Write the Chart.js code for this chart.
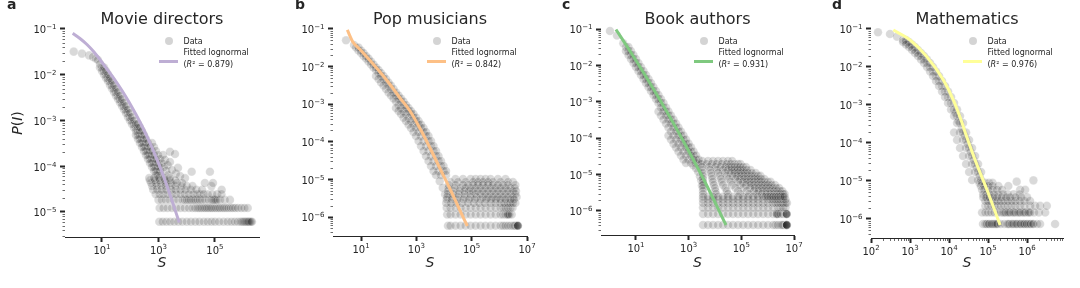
<!DOCTYPE html>
<html>
<head>
<meta charset="utf-8">
<script src="https://cdn.jsdelivr.net/npm/chart.js@4.4.1/dist/chart.umd.min.js"></script>
<style>
  body { margin: 0; background: #fff; }
  #wrap { position: relative; width: 1080px; height: 288px; }
  #wrap canvas { position: absolute; top: 0; }
</style>
</head>
<body>
<div id="wrap">
  <canvas id="panelA" width="270" height="288" style="left:0px"></canvas>
  <canvas id="panelB" width="270" height="288" style="left:270px"></canvas>
  <canvas id="panelC" width="270" height="288" style="left:540px"></canvas>
  <canvas id="panelD" width="270" height="288" style="left:810px"></canvas>
</div>
<script>
const panelTitles = ["Movie directors", "Pop musicians", "Book authors", "Mathematics"];
const panelLetters = ["a", "b", "c", "d"];
const fitR2 = ["0.879", "0.842", "0.931", "0.976"];
const fitColors = ["#beaed4", "#fdc086", "#7fc97f", "#ffff99"];

const xTicksA = [10, 1e3, 1e5];
const xTicksB = [10, 1e3, 1e5, 1e7];
const xTicksC = [10, 1e3, 1e5, 1e7];
const xTicksD = [1e2, 1e3, 1e4, 1e5, 1e6];
const yTicksA = [1e-1, 1e-2, 1e-3, 1e-4, 1e-5];
const yTicksBCD = [1e-1, 1e-2, 1e-3, 1e-4, 1e-5, 1e-6];

// a: movie directors
const dirFitX = [0.918, 1.66, 2.94, 5.21, 9.23, 16.3, 28.9, 51, 90.3, 160, 283, 500, 885, 1570, 2770, 5440];
const dirFitY = [0.0805, 0.0619, 0.0458, 0.0314, 0.02, 0.0124, 0.00767, 0.00453, 0.00254, 0.00135, 6.85e-4, 3.22e-4, 1.41e-4, 5.68e-5, 2.07e-5, 5.89e-6];
const dirCloud = [
  [1.0,0.032],[1.95,0.029],[3.5,0.0265],[4.8,0.0245],[6.1,0.0225],[7.2,0.021],
  [8.5,0.0172],[10,0.0144],[11.8,0.0121],[13.9,0.0101],[16.3,0.0085],[19.2,0.0073],[22.6,0.006],[26.6,0.005],
  [31.3,0.0042],[36.8,0.0035],[43.4,0.00295],[51,0.00247],[60,0.00207],[70.8,0.00174],[83.2,0.00146],[98,0.00119],
  [115,0.001],[136,8.4e-4],[160,7e-4],[188,5.9e-4],[221,4.8e-4],[261,3.94e-4],[307,3.22e-4],[361,2.64e-4],
  [425,2.16e-4],[500,1.76e-4],[589,1.44e-4],[693,1.18e-4],[816,9.6e-5],[960,7.9e-5],[1130,6.4e-5],
  [8.5,0.0144],[10,0.0121],[11.8,0.0101],[13.9,0.0085],[16.3,0.0073],[19.2,0.006],[22.6,0.005],[26.6,0.0042],
  [31.3,0.0035],[36.8,0.00295],[43.4,0.00247],[51,0.00207],[60,0.00174],[70.8,0.00146],[83.2,0.00119],[98,0.001],
  [115,8.4e-4],[136,7e-4],[160,5.9e-4],[188,4.8e-4],[221,3.94e-4],[261,3.22e-4],[307,2.64e-4],[361,2.16e-4],
  [425,1.76e-4],[500,1.44e-4],[589,1.18e-4],[693,9.6e-5],[816,7.9e-5],[960,6.4e-5],
  [11.8,0.0144],[13.9,0.0121],[16.3,0.0101],[19.2,0.0085],[22.6,0.0073],[26.6,0.006],[31.3,0.005],[36.8,0.0042],
  [43.4,0.0035],[51,0.00295],[60,0.00247],[70.8,0.00207],[83.2,0.00174],[98,0.00146],[115,0.00119],[136,0.001],
  [160,8.4e-4],[188,7e-4],[221,5.9e-4],[261,4.8e-4],[307,3.94e-4],[361,3.22e-4],[425,2.64e-4],[500,2.16e-4],
  [589,1.76e-4],[693,1.44e-4],[816,1.18e-4],[960,9.6e-5],[1130,7.9e-5],
  [188,8.4e-4],[221,7e-4],[261,5.9e-4],[307,4.8e-4],[361,3.94e-4],[425,3.22e-4],[500,2.64e-4],[589,2.16e-4],
  [693,1.76e-4],[816,1.44e-4],[960,1.18e-4],[1130,9.6e-5],
  [589,3.22e-4],[693,2.64e-4],[816,2.16e-4],[960,1.76e-4],[1130,1.44e-4],[1330,1.18e-4],[1570,9.6e-5],[1850,7.9e-5],[2200,6.4e-5],
  [160,4.8e-4],[188,3.94e-4],[221,3.22e-4],[261,2.64e-4],[307,2.16e-4],[361,1.76e-4],[425,1.44e-4],[500,1.18e-4],
  [589,9.6e-5],[693,7.9e-5],[816,6.4e-5],
  [1700,1.37e-4],[2100,1.06e-4],[3000,8.3e-5],[4100,6.9e-5],[5800,6.1e-5],[8700,5.5e-5],[4900,9.2e-5],[2550,1.24e-4],[1450,1.76e-4],
  [2550,2.08e-4],[3840,1.85e-4],[1.5e4,7.6e-5],[6.65e4,7.6e-5]
];
const dirRowY = [6.1e-6, 1.22e-5, 1.84e-5, 2.45e-5, 3.07e-5, 3.68e-5, 4.3e-5, 4.9e-5, 5.5e-5];
const dirRowX = [
  [1070,1400,1900,2600,3600,5000,7000,1e4,1.4e4,2e4,2.8e4,4e4,5.5e4,7.5e4,1e5,1.4e5,2e5,2.8e5,3.8e5,5e5,6.5e5,8e5,9e5,1e6,1.1e6,1.2e6,1.3e6,1.4e6,1.5e6,1.6e6,1.75e6,1.9e6,2.05e6],
  [1100,1500,2100,3000,4200,6000,8500,1.2e4,1.6e4,2e4,2.4e4,2.8e4,3.3e4,3.9e4,4.5e4,5.2e4,6e4,7e4,8e4,9.5e4,1.1e5,1.3e5,1.5e5,1.8e5,2.1e5,2.5e5,3e5,3.6e5,4.3e5,5.2e5,6.5e5,8.5e5,1.1e6,1.45e6],
  [1000,1300,1800,2500,3500,5000,7000,8500,1e4,1.2e4,1.4e4,1.7e4,2e4,2.4e4,2.9e4,3.5e4,4.5e4,6e4,7.5e4,8.5e4,9.5e4,1.05e5,1.2e5,1.5e5,2.2e5,3.4e5],
  [800,1100,1500,2100,3000,4200,6000,8500,1.2e4,1.7e4,2.3e4,3e4,4e4,5.5e4,8e4,1.2e5,1.7e5],
  [650,900,1300,1900,2800,4000,6000,9000,1.4e4,2.2e4,3.5e4,1.73e5],
  [600,850,1250,1800,2700,4000,6500,1e4,1.6e4,7.5e4],
  [550,800,1200,1800,2800,4500,7000,4.4e4,8.5e4],
  [500,750,1100,1700,2600,4000],
  [470,700,1050,1600,2500]
];

// b: pop musicians
const popFitX = [3.2, 5.01, 9.2, 21.1, 48.6, 112, 257, 590, 1360, 3120, 7160, 1.65e4, 3.79e4, 6.95e4];
const popFitY = [0.094, 0.0459, 0.0285, 0.0145, 0.00718, 0.00334, 0.00146, 6.59e-4, 2.26e-4, 6.84e-5, 1.95e-5, 5.56e-6, 1.49e-6, 5.77e-7];
const popCloud = [
  [2.87,0.05],[5.6,0.0375],
  [6.6,0.0322],[8.1,0.0268],[10,0.023],[12.3,0.0191],[15.2,0.0164],[18.7,0.0137],[23,0.0114],[28.3,0.00946],
  [34.8,0.00812],[42.9,0.00676],[52.8,0.00562],[65,0.00468],[80,0.00378],[98.6,0.00314],[121,0.00253],[150,0.00205],
  [184,0.0017],[227,0.00142],[279,0.00118],[344,9.5e-4],[423,7.9e-4],[521,6.6e-4],[641,5.5e-4],[789,4.4e-4],
  [972,3.57e-4],[1200,2.88e-4],[1470,2.33e-4],[1820,1.82e-4],[2230,1.43e-4],[2750,1.05e-4],[3390,7.7e-5],[4170,5.7e-5],
  [5140,4.2e-5],[6320,3.08e-5],[7780,2.27e-5],[9590,1.67e-5],[1.18e4,1.31e-5],
  [8.1,0.0322],[10,0.0268],[12.3,0.023],[15.2,0.0191],[18.7,0.0164],[23,0.0137],[28.3,0.0114],[34.8,0.00946],
  [42.9,0.00812],[52.8,0.00676],[65,0.00562],[80,0.00468],[98.6,0.00378],[121,0.00314],[150,0.00253],[184,0.00205],
  [227,0.0017],[279,0.00142],[344,0.00118],[423,9.5e-4],[521,7.9e-4],[641,6.6e-4],[789,5.5e-4],[972,4.4e-4],
  [1200,3.57e-4],[1470,2.88e-4],[1820,2.33e-4],[2230,1.82e-4],[2750,1.43e-4],[3390,1.05e-4],[4170,7.7e-5],[5140,5.7e-5],
  [6320,4.2e-5],[7780,3.08e-5],[9590,2.27e-5],[1.18e4,1.67e-5],
  [34.8,0.00562],[42.9,0.00468],[52.8,0.00378],[65,0.00314],[80,0.00253],[98.6,0.00205],[121,0.0017],[150,0.00142],
  [184,0.00118],[227,9.5e-4],[279,7.9e-4],[344,6.6e-4],[423,5.5e-4],[521,4.4e-4],[641,3.57e-4],[789,2.88e-4],
  [972,2.33e-4],[1200,1.82e-4],[1470,1.43e-4],[1820,1.05e-4],[2230,7.7e-5],[2750,5.7e-5],[3390,4.2e-5],[4170,3.08e-5],
  [5140,2.27e-5],[6320,1.67e-5],[7780,1.31e-5],
  [184,7.9e-4],[227,6.6e-4],[279,5.5e-4],[344,4.4e-4],[423,3.57e-4],[521,2.88e-4],[641,2.33e-4],[789,1.82e-4],
  [972,1.43e-4],[1200,1.05e-4],[1470,7.7e-5],[1820,5.7e-5],[2230,4.2e-5],[2750,3.08e-5],[3390,2.27e-5],[4170,1.67e-5],[5140,1.31e-5],
  [7000,9e-6],[9000,6e-6],[1.1e4,4e-6],
  [2.6e4,1.03e-5],[4.86e4,1.03e-5],[9.1e4,1.03e-5],[1.38e5,1.03e-5],[2.08e5,1.03e-5],[3.15e5,1.03e-5],[4.8e5,1.03e-5],[8.9e5,1.03e-5],[1.67e6,1.03e-5],
  [1.71e4,8.5e-6],[3.2e4,8.5e-6],[6e4,8.5e-6],[1.12e5,8.5e-6],[1.69e5,8.5e-6],[2.56e5,8.5e-6],[3.9e5,8.5e-6],[5.9e5,8.5e-6],[1.1e6,8.5e-6],[2.05e6,8.5e-6],[3.1e6,8.5e-6],
  [1.5e4,7.1e-6],[2.6e4,7.1e-6],[4.86e4,7.1e-6],[7.4e4,7.1e-6],[1.12e5,7.1e-6],[1.69e5,7.1e-6],[2.56e5,7.1e-6],[3.9e5,7.1e-6],[5.9e5,7.1e-6],[8.9e5,7.1e-6],[1.36e6,7.1e-6],[2.05e6,7.1e-6],[3.8e6,7.1e-6],
  [1.45e4,5.9e-6],[2.4e4,5.9e-6],[3.94e4,5.9e-6],[6e4,5.9e-6],[9.1e4,5.9e-6],[1.38e5,5.9e-6],[2.08e5,5.9e-6],[3.15e5,5.9e-6],[4.8e5,5.9e-6],[7.3e5,5.9e-6],[1.1e6,5.9e-6],[1.67e6,5.9e-6],[2.52e6,5.9e-6],[3.6e6,5.9e-6],
  [1.4e4,4.9e-6],[2.2e4,4.9e-6],[3.6e4,4.9e-6],[5.5e4,4.9e-6],[8e4,4.9e-6],[1.12e5,4.9e-6],[1.69e5,4.9e-6],[2.56e5,4.9e-6],[3.9e5,4.9e-6],[5.9e5,4.9e-6],[8.9e5,4.9e-6],[1.36e6,4.9e-6],[2.05e6,4.9e-6],[3.1e6,4.9e-6],[4e6,4.9e-6],
  [1.35e4,4.1e-6],[2.1e4,4.1e-6],[3.4e4,4.1e-6],[5.5e4,4.1e-6],[9.1e4,4.1e-6],[1.38e5,4.1e-6],[2.08e5,4.1e-6],[3.15e5,4.1e-6],[4.8e5,4.1e-6],[7.3e5,4.1e-6],[1.1e6,4.1e-6],[1.67e6,4.1e-6],[2.52e6,4.1e-6],[3.8e6,4.1e-6],
  [1.3e4,3.4e-6],[2e4,3.4e-6],[3.2e4,3.4e-6],[5.5e4,3.4e-6],[9e4,3.4e-6],[1.5e5,3.4e-6],[2.56e5,3.4e-6],[3.9e5,3.4e-6],[5.9e5,3.4e-6],[8.9e5,3.4e-6],[1.36e6,3.4e-6],[2.05e6,3.4e-6],[3.1e6,3.4e-6],[4.2e6,3.4e-6]
];
const popRowY = [5.87e-7, 1.17e-6, 1.76e-6, 2.35e-6, 2.93e-6];
const popRowX = [
  [1.39e4,1.71e4,2.6e4,3.94e4,6e4,9.1e4,1.38e5,2.08e5,3.15e5,4.8e5,7.3e5,1.1e6,1.36e6,1.67e6,2.05e6,2.52e6,3.1e6,3.5e6,3.8e6,4.2e6,4.5e6,4.6e6,4.7e6,4.7e6],
  [1.3e4,1.71e4,2.6e4,3.94e4,6e4,9.1e4,1.38e5,2.08e5,3.15e5,4.8e5,7.3e5,1.1e6,1.36e6,1.67e6,1.9e6,2.05e6,2.05e6,2.3e6,2.8e6],
  [1.25e4,1.71e4,2.6e4,3.94e4,6e4,9.1e4,1.38e5,2.08e5,3.15e5,4.8e5,7.3e5,1.1e6,1.4e6,1.67e6,2.05e6,2.52e6,3e6],
  [1.2e4,1.8e4,2.8e4,4.5e4,7.4e4,1.2e5,1.9e5,3e5,4.8e5,7.3e5,1.1e6,1.5e6,2e6,2.5e6,3.1e6,3.8e6],
  [1.25e4,1.9e4,3e4,5e4,8e4,1.3e5,2.1e5,3.3e5,5e5,7.5e5,1.1e6,1.67e6,2.52e6,3.4e6]
];

// c: book authors
const bookFitX = [1.74, 5.92, 22, 81.6, 303, 1125, 4180, 2.62e4];
const bookFitY = [0.0969, 0.0249, 0.00545, 0.00112, 2.16e-4, 3.8e-5, 6.26e-6, 4.12e-7];
const bookCloud = [
  [1.03,0.088],[1.9,0.066],[3.3,0.0405],
  [4.17,0.032],[5.19,0.0249],[6.46,0.0193],[8.04,0.015],[10,0.01165],[12.4,0.00904],[15.5,0.00702],[19.3,0.00545],
  [24,0.00423],[29.9,0.00328],[37.2,0.00255],[46.2,0.00198],[57.5,0.00154],[71.6,0.00119],[89,9.3e-4],[111,6.97e-4],
  [138,5.42e-4],[171,4.2e-4],[213,3.27e-4],[266,2.54e-4],[330,1.97e-4],[411,1.53e-4],[511,1.19e-4],[636,9.2e-5],
  [792,7.1e-5],[986,5.6e-5],[1230,4.3e-5],[1530,3.35e-5],[1900,2.6e-5],[2370,2.08e-5],
  [5.19,0.032],[6.46,0.0249],[8.04,0.0193],[10,0.015],[12.4,0.01165],[15.5,0.00904],[19.3,0.00702],[24,0.00545],
  [29.9,0.00423],[37.2,0.00328],[46.2,0.00255],[57.5,0.00198],[71.6,0.00154],[89,0.00119],[111,9.3e-4],[138,6.97e-4],
  [171,5.42e-4],[213,4.2e-4],[266,3.27e-4],[330,2.54e-4],[411,1.97e-4],[511,1.53e-4],[636,1.19e-4],[792,9.2e-5],
  [986,7.1e-5],[1230,5.6e-5],[1530,4.3e-5],[1900,3.35e-5],[2370,2.6e-5],
  [4.17,0.0249],[5.19,0.0193],[6.46,0.015],[8.04,0.01165],[10,0.00904],[12.4,0.00702],[15.5,0.00545],[19.3,0.00423],
  [24,0.00328],[29.9,0.00255],[37.2,0.00198],[46.2,0.00154],[57.5,0.00119],[71.6,9.3e-4],[89,6.97e-4],[111,5.42e-4],
  [138,4.2e-4],[171,3.27e-4],[213,2.54e-4],[266,1.97e-4],[330,1.53e-4],[411,1.19e-4],[511,9.2e-5],[636,7.1e-5],
  [792,5.6e-5],[986,4.3e-5],[1230,3.35e-5],[1530,2.6e-5],[1900,2.08e-5],
  [71.6,5.42e-4],[89,4.2e-4],[111,3.27e-4],[138,2.54e-4],[171,1.97e-4],[213,1.53e-4],[266,1.19e-4],[330,9.2e-5],
  [411,7.1e-5],[511,5.6e-5],[636,4.3e-5],[792,3.35e-5],[986,2.6e-5],[1230,2.08e-5],
  [171,1.19e-4],[213,9.2e-5],[266,7.1e-5],[330,5.6e-5],[411,4.3e-5],[511,3.35e-5],[636,2.6e-5],[792,2.08e-5],
  [1500,1.8e-5],[1900,1.5e-5],[2300,1.2e-5],[2700,9e-6],[3000,7e-6],[3200,5e-6],
  [3300,2.37e-5],[5400,2.37e-5],[8400,2.37e-5],[1.3e4,2.37e-5],[2e4,2.37e-5],[3.1e4,2.37e-5],[4.5e4,2.37e-5],
  [3000,1.96e-5],[4800,1.96e-5],[7500,1.96e-5],[1.15e4,1.96e-5],[1.8e4,1.96e-5],[2.8e4,1.96e-5],[3.9e4,1.96e-5],[5.5e4,1.96e-5],[7.5e4,1.96e-5],[9.3e4,1.96e-5],
  [3200,1.62e-5],[6000,1.62e-5],[1.04e4,1.62e-5],[1.62e4,1.62e-5],[2.5e4,1.62e-5],[3.3e4,1.62e-5],[4.3e4,1.62e-5],[5.5e4,1.62e-5],[7e4,1.62e-5],[9e4,1.62e-5],[1.16e5,1.62e-5],[1.5e5,1.62e-5],
  [3300,1.34e-5],[6500,1.34e-5],[1.2e4,1.34e-5],[2e4,1.34e-5],[3.1e4,1.34e-5],[4.2e4,1.34e-5],[5.5e4,1.34e-5],[7.2e4,1.34e-5],[9.3e4,1.34e-5],[1.2e5,1.34e-5],[1.6e5,1.34e-5],[2.24e5,1.34e-5],
  [3400,1.11e-5],[7000,1.11e-5],[1.3e4,1.11e-5],[2.4e4,1.11e-5],[3.9e4,1.11e-5],[5.5e4,1.11e-5],[7.5e4,1.11e-5],[1e5,1.11e-5],[1.35e5,1.11e-5],[1.8e5,1.11e-5],[2.5e5,1.11e-5],[3.5e5,1.11e-5],
  [3500,9.2e-6],[7500,9.2e-6],[1.5e4,9.2e-6],[2.8e4,9.2e-6],[4.8e4,9.2e-6],[7e4,9.2e-6],[9.5e4,9.2e-6],[1.3e5,9.2e-6],[1.75e5,9.2e-6],[2.4e5,9.2e-6],[3.2e5,9.2e-6],[4.3e5,9.2e-6],[5.3e5,9.2e-6],
  [3500,7.6e-6],[8000,7.6e-6],[1.7e4,7.6e-6],[3.3e4,7.6e-6],[6e4,7.6e-6],[9e4,7.6e-6],[1.25e5,7.6e-6],[1.7e5,7.6e-6],[2.3e5,7.6e-6],[3.1e5,7.6e-6],[4.2e5,7.6e-6],[5.6e5,7.6e-6],[7.5e5,7.6e-6],
  [3500,6.3e-6],[8400,6.3e-6],[1.8e4,6.3e-6],[3.9e4,6.3e-6],[7.5e4,6.3e-6],[1.16e5,6.3e-6],[1.6e5,6.3e-6],[2.2e5,6.3e-6],[3e5,6.3e-6],[4.1e5,6.3e-6],[5.5e5,6.3e-6],[7.5e5,6.3e-6],[1e6,6.3e-6],[1.28e6,6.3e-6],
  [3500,5.2e-6],[9000,5.2e-6],[2e4,5.2e-6],[4.5e4,5.2e-6],[9e4,5.2e-6],[1.5e5,5.2e-6],[2.2e5,5.2e-6],[3e5,5.2e-6],[4.2e5,5.2e-6],[5.7e5,5.2e-6],[7.7e5,5.2e-6],[1.03e6,5.2e-6],[1.4e6,5.2e-6],[1.9e6,5.2e-6],
  [3500,4.3e-6],[1e4,4.3e-6],[2.5e4,4.3e-6],[6e4,4.3e-6],[1.2e5,4.3e-6],[2.2e5,4.3e-6],[3.2e5,4.3e-6],[4.5e5,4.3e-6],[6.2e5,4.3e-6],[8.5e5,4.3e-6],[1.15e6,4.3e-6],[1.55e6,4.3e-6],[2.1e6,4.3e-6],[2.7e6,4.3e-6],
  [3500,3.54e-6],[1.04e4,3.54e-6],[2.8e4,3.54e-6],[7.5e4,3.54e-6],[1.6e5,3.54e-6],[3e5,3.54e-6],[4.5e5,3.54e-6],[6.5e5,3.54e-6],[9e5,3.54e-6],[1.25e6,3.54e-6],[1.7e6,3.54e-6],[2.3e6,3.54e-6],[3e6,3.54e-6],[3.6e6,3.54e-6],
  [3500,2.94e-6],[1.1e4,2.94e-6],[3.1e4,2.94e-6],[9e4,2.94e-6],[2e5,2.94e-6],[3.8e5,2.94e-6],[6e5,2.94e-6],[9e5,2.94e-6],[1.25e6,2.94e-6],[1.7e6,2.94e-6],[2.3e6,2.94e-6],[3e6,2.94e-6],[3.8e6,2.94e-6],[4.4e6,2.94e-6]
];
const bookRowY = [4.12e-7, 8.24e-7, 1.24e-6, 1.65e-6, 2.06e-6, 2.47e-6];
const bookRowX = [
  [3500,5400,8400,1.3e4,2e4,3.1e4,4.8e4,7.5e4,1.16e5,1.8e5,2.8e5,4.3e5,6.7e5,1.03e6,1.6e6,1.99e6,2.47e6,3.07e6,3.5e6,3.83e6,4.3e6,4.76e6,5.1e6,5.2e6,5.2e6,5.3e6,5.3e6,5.4e6],
  [3500,5400,8400,1.3e4,2e4,3.1e4,4.8e4,7.5e4,1.16e5,1.8e5,2.8e5,4.3e5,6.7e5,1.03e6,1.6e6,2.2e6,2.2e6,2.2e6,2.47e6,3.07e6,3.83e6,4.76e6,5.2e6,5.2e6,5.2e6,5.3e6],
  [3500,5400,8400,1.3e4,2e4,3.1e4,4.8e4,7.5e4,1.16e5,1.8e5,2.8e5,4.3e5,6.7e5,1.03e6,1.6e6,2.47e6,3.07e6,3.83e6,4.76e6],
  [3500,5400,8400,1.3e4,2e4,3.1e4,4.8e4,7.5e4,1.16e5,1.8e5,2.8e5,4.3e5,6.7e5,1.03e6,1.6e6,1.99e6,2.47e6,3.07e6,3.83e6,4.76e6,5.4e6],
  [3500,5400,8400,1.3e4,2e4,3.1e4,4.8e4,7.5e4,1.16e5,1.8e5,2.8e5,4.3e5,6.7e5,1.03e6,1.28e6,1.6e6,1.99e6,2.47e6,3.07e6,3.83e6,4.76e6],
  [3500,5400,8400,1.3e4,2e4,3.1e4,4.8e4,7.5e4,1.16e5,1.8e5,2.8e5,4.3e5,6.7e5,8.3e5,1.03e6,1.28e6,1.6e6,1.99e6,2.47e6,3.07e6,3.83e6,4.4e6]
];

// d: mathematics
const mathFitX = [373, 1000, 2680, 7140, 1.29e4, 2.03e4, 2.73e4, 4.64e4, 9.4e4, 2.03e5];
const mathFitY = [0.094, 0.0514, 0.0187, 0.00455, 0.00135, 4.03e-4, 1.62e-4, 3.57e-5, 5.8e-6, 6.95e-7];
const mathCloud = [
  [151,0.082],[307,0.074],[464,0.063],
  [661,0.0513],[789,0.0455],[942,0.0391],[1125,0.0336],[1343,0.028],[1603,0.0233],[1914,0.0195],[2285,0.0157],
  [2728,0.0127],[3257,0.01],[3888,0.00762],[4642,0.0058],[5542,0.00428],[6617,0.00316],[7900,0.00227],[9430,0.00162],
  [1.126e4,0.00113],[1.344e4,7.6e-4],[1.6e4,5.14e-4],[1.91e4,3.36e-4],[2.28e4,1.89e-4],[2.73e4,1.2e-4],[3.26e4,7.4e-5],
  [3.89e4,4.55e-5],[4.64e4,2.8e-5],[5.54e4,1.73e-5],[6.62e4,1.06e-5],
  [1.47e4,6.2e-4],[1.75e4,3.8e-4],[2.09e4,2.33e-4],[2.5e4,1.53e-4],[2.98e4,9.4e-5],[3.56e4,5.8e-5],[4.25e4,3.57e-5],[5.07e4,2.2e-5],[6.05e4,1.35e-5],
  [789,0.0513],[942,0.0455],[1125,0.0391],[1343,0.0336],[1603,0.028],[1914,0.0233],[2285,0.0195],[2728,0.0157],
  [3257,0.0127],[3888,0.01],[4642,0.00762],[5542,0.0058],[6617,0.00428],[7900,0.00316],[9430,0.00227],[1.126e4,0.00162],
  [1.344e4,0.00113],[1.6e4,7.6e-4],[1.91e4,5.14e-4],[2.28e4,3.36e-4],[2.73e4,1.89e-4],[3.26e4,1.2e-4],[3.89e4,7.4e-5],
  [4.64e4,4.55e-5],[5.54e4,2.8e-5],[6.62e4,1.73e-5],
  [661,0.0455],[789,0.0391],[942,0.0336],[1125,0.028],[1343,0.0233],[1603,0.0195],[1914,0.0157],[2285,0.0127],
  [2728,0.01],[3257,0.00762],[3888,0.0058],[4642,0.00428],[5542,0.00316],[6617,0.00227],[7900,0.00162],[9430,0.00113],
  [1.126e4,7.6e-4],[1.344e4,5.14e-4],[1.6e4,3.36e-4],[1.91e4,1.89e-4],[2.28e4,1.2e-4],[2.73e4,7.4e-5],[3.26e4,4.55e-5],
  [3.89e4,2.8e-5],[4.64e4,1.73e-5],[5.54e4,1.06e-5],
  [1.344e4,1.89e-4],[1.6e4,1.2e-4],[1.91e4,7.4e-5],[2.28e4,4.55e-5],[2.73e4,2.8e-5],[3.26e4,1.73e-5],[3.89e4,1.06e-5],
  [6e4,8.9e-6],[7e4,8.9e-6],[8.5e4,8.9e-6],[1.05e5,8.9e-6],[1.3e5,8.9e-6],[5.4e5,9.6e-6],[1.45e6,1.04e-5],
  [6.5e4,7.4e-6],[8e4,7.4e-6],[1e5,7.4e-6],[1.3e5,7.4e-6],[1.84e5,7.4e-6],[3.3e5,7.4e-6],
  [7e4,5.9e-6],[8e4,5.9e-6],[1e5,5.9e-6],[1.3e5,5.9e-6],[1.7e5,5.9e-6],[2.3e5,5.9e-6],[6.6e5,5.9e-6],[8.9e5,5.9e-6],
  [7.5e4,4.44e-6],[9e4,4.44e-6],[1.1e5,4.44e-6],[1.4e5,4.44e-6],[1.8e5,4.44e-6],[2.4e5,4.44e-6],[3.2e5,4.44e-6],[4.5e5,4.44e-6],[6.5e5,4.44e-6]
];
const mathRowY = [7.4e-7, 1.48e-6, 2.22e-6, 2.96e-6, 3.7e-6];
const mathRowX = [
  [7.4e4,8.4e4,9e4,9.5e4,1.05e5,1.07e5,1.2e5,1.25e5,1.35e5,1.45e5,1.55e5,1.65e5,1.75e5,2.1e5,2.6e5,3.1e5,3.3e5,3.5e5,4e5,4.2e5,4.5e5,5e5,5.3e5,5.6e5,6.3e5,6.7e5,7e5,7.8e5,8.2e5,8.7e5,9.7e5,1e6,1.1e6,1.2e6,1.25e6,1.4e6,1.45e6,1.8e6,2.15e6,5.2e6],
  [7e4,8.5e4,1e5,1.2e5,1.45e5,1.75e5,2.1e5,2.4e5,2.6e5,2.8e5,3.2e5,3.4e5,3.7e5,4.3e5,4.6e5,5e5,5.8e5,6.2e5,6.7e5,7.7e5,8.3e5,9e5,1.05e6,1.1e6,1.2e6,1.5e6,2e6,2.9e6],
  [8.5e4,1e5,1.2e5,1.45e5,1.75e5,2.1e5,2.6e5,3.2e5,4e5,5e5,6.5e5,8.5e5,1.19e6,1.6e6,2.15e6,3.2e6],
  [8.5e4,1e5,1.2e5,1.45e5,1.75e5,2.1e5,2.6e5,3.2e5,4e5,5e5,6.5e5,8.5e5,1.19e6],
  [7.5e4,9e4,1.1e5,1.35e5,1.7e5,2.2e5,2.9e5,3.66e5,5e5,7e5,1e6]
];

const W = 270, H = 288;
const FONT = '"DejaVu Sans", sans-serif';
const INK = "#262626";

const panels = [
  { id: "panelA", cloud: dirCloud, rowY: dirRowY, rowX: dirRowX, fitX: dirFitX, fitY: dirFitY, xTicks: xTicksA, yTicks: yTicksA,
    area: { l: 65, r: 259, t: 25, b: 237 }, xMin: 0.49, xMax: 3.63e6, yMin: 2.84e-6, yMax: 0.1223, letterX: 7, yLabel: true, xMinor: false },
  { id: "panelB", cloud: popCloud, rowY: popRowY, rowX: popRowX, fitX: popFitX, fitY: popFitY, xTicks: xTicksB, yTicks: yTicksBCD,
    area: { l: 63, r: 257, t: 25, b: 236 }, xMin: 0.97, xMax: 1e7, yMin: 3.13e-7, yMax: 0.1276, letterX: 25, yLabel: false, xMinor: false },
  { id: "panelC", cloud: bookCloud, rowY: bookRowY, rowX: bookRowX, fitX: bookFitX, fitY: bookFitY, xTicks: xTicksC, yTicks: yTicksBCD,
    area: { l: 61, r: 254, t: 25, b: 235 }, xMin: 0.47, xMax: 1e7, yMin: 2.19e-7, yMax: 0.1288, letterX: 22, yLabel: false, xMinor: false },
  { id: "panelD", cloud: mathCloud, rowY: mathRowY, rowX: mathRowX, fitX: mathFitX, fitY: mathFitY, xTicks: xTicksD, yTicks: yTicksBCD,
    area: { l: 61, r: 253, t: 25, b: 238 }, xMin: 100, xMax: 8.3e6, yMin: 3.16e-7, yMax: 0.1274, letterX: 22, yLabel: false, xMinor: true }
];

function expText(v) {
  return String(Math.round(Math.log10(v))).replace("-", "\u2212");
}

function drawRuns(ctx, runs, x, y) {
  runs.forEach(r => {
    ctx.font = r[1];
    ctx.fillText(r[0], x, y);
    x += ctx.measureText(r[0]).width;
  });
}
function runsWidth(ctx, runs) {
  let w = 0;
  runs.forEach(r => { ctx.font = r[1]; w += ctx.measureText(r[0]).width; });
  return w;
}

function decorFor(i) {
  const p = panels[i];
  return {
    id: "decor" + i,
    afterDraw(chart) {
      const ctx = chart.ctx, a = chart.chartArea;
      const xs = chart.scales.x, ys = chart.scales.y;
      ctx.save();

      // minor ticks
      ctx.strokeStyle = "rgba(38,38,38,0.85)";
      ctx.lineWidth = 0.8;
      ctx.beginPath();
      for (let d = Math.floor(Math.log10(ys.min)); d <= Math.ceil(Math.log10(ys.max)); d++) {
        for (let k = 2; k < 10; k++) {
          const v = k * Math.pow(10, d);
          if (v < ys.min || v > ys.max) continue;
          const py = Math.round(ys.getPixelForValue(v)) + 0.5;
          ctx.moveTo(a.left - 2.5, py);
          ctx.lineTo(a.left, py);
        }
      }
      if (p.xMinor) {
        for (let d = Math.floor(Math.log10(xs.min)); d <= Math.ceil(Math.log10(xs.max)); d++) {
          for (let k = 2; k < 10; k++) {
            const v = k * Math.pow(10, d);
            if (v < xs.min || v > xs.max) continue;
            const px = Math.round(xs.getPixelForValue(v)) + 0.5;
            ctx.moveTo(px, a.bottom);
            ctx.lineTo(px, a.bottom + 3);
          }
        }
      }
      ctx.stroke();

      ctx.fillStyle = INK;
      ctx.textBaseline = "alphabetic";
      ctx.textAlign = "left";
      const f10 = "10px " + FONT, f7 = "7px " + FONT;

      // tick labels: "10" with a raised exponent
      ys.ticks.forEach(t => {
        const py = ys.getPixelForValue(t.value);
        const e = expText(t.value);
        ctx.font = f7;
        const we = ctx.measureText(e).width;
        ctx.font = f10;
        const w10 = ctx.measureText("10").width;
        const x0 = a.left - 8.5 - we - w10;
        ctx.fillText("10", x0, py + 4.3);
        ctx.font = f7;
        ctx.fillText(e, x0 + w10, py + 0.3);
      });
      xs.ticks.forEach(t => {
        const px = xs.getPixelForValue(t.value);
        const e = expText(t.value);
        ctx.font = f10;
        const w10 = ctx.measureText("10").width;
        ctx.font = f7;
        const we = ctx.measureText(e).width;
        const x0 = px - (w10 + we) / 2;
        ctx.font = f10;
        ctx.fillText("10", x0, a.bottom + 16.5);
        ctx.font = f7;
        ctx.fillText(e, x0 + w10, a.bottom + 12.3);
      });

      // panel letter and title
      ctx.font = "bold 14px " + FONT;
      ctx.fillText(panelLetters[i], p.letterX, 9);
      ctx.textAlign = "center";
      ctx.font = "16px " + FONT;
      ctx.fillText(panelTitles[i], (a.left + a.right) / 2, 24);

      // axis labels
      ctx.font = "italic 14px " + FONT;
      ctx.fillText("S", (a.left + a.right) / 2, 267);
      if (p.yLabel) {
        const it = "italic 14px " + FONT, nm = "14px " + FONT;
        const runs = [["P", it], ["(", nm], ["I", it], [")", nm]];
        ctx.save();
        ctx.translate(18, 123);
        ctx.rotate(-Math.PI / 2);
        ctx.textAlign = "left";
        ctx.textBaseline = "middle";
        drawRuns(ctx, runs, -runsWidth(ctx, runs) / 2, 0);
        ctx.restore();
      }

      // legend
      const lx = a.right;
      ctx.fillStyle = "rgba(0,0,0,0.17)";
      ctx.beginPath();
      ctx.arc(lx - 90, 41, 4, 0, Math.PI * 2);
      ctx.fill();
      ctx.strokeStyle = fitColors[i];
      ctx.lineWidth = 3;
      ctx.beginPath();
      ctx.moveTo(lx - 100, 61.5);
      ctx.lineTo(lx - 81, 61.5);
      ctx.stroke();
      ctx.fillStyle = INK;
      ctx.textAlign = "left";
      ctx.font = "8px " + FONT;
      ctx.fillText("Data", lx - 75.5, 43.5);
      ctx.fillText("Fitted lognormal", lx - 75.5, 54.5);
      const n8 = "8px " + FONT, i8 = "italic 8px " + FONT;
      drawRuns(ctx, [["(", n8], ["R", i8], ["\u00B2 = " + fitR2[i] + ")", n8]], lx - 75.5, 66.5);

      ctx.restore();
    }
  };
}

panels.forEach((p, i) => {
  const scatterPts = p.cloud.map(c => ({ x: c[0], y: c[1] }));
  p.rowY.forEach((y, r) => p.rowX[r].forEach(x => scatterPts.push({ x: x, y: y })));
  const fitPts = p.fitX.map((x, k) => ({ x: x, y: p.fitY[k] }));

  new Chart(document.getElementById(p.id), {
    type: "scatter",
    data: {
      datasets: [
        { data: fitPts, showLine: true, borderColor: fitColors[i], borderWidth: 3, pointRadius: 0, cubicInterpolationMode: "monotone", order: 0, clip: false },
        { data: scatterPts, pointRadius: 4.3, backgroundColor: "rgba(0,0,0,0.15)", borderColor: "rgba(255,255,255,0.3)", borderWidth: 0.75, order: 1, clip: false }
      ]
    },
    options: {
      responsive: false,
      animation: false,
      devicePixelRatio: 1,
      events: [],
      layout: { padding: { top: p.area.t, right: W - p.area.r, left: 0, bottom: 0 } },
      plugins: { legend: { display: false }, tooltip: { enabled: false } },
      scales: {
        x: {
          type: "logarithmic", position: "bottom", min: p.xMin, max: p.xMax,
          afterBuildTicks: s => { s.ticks = p.xTicks.map(v => ({ value: v })); },
          afterFit: s => { s.height = H - p.area.b; s.paddingLeft = 0; s.paddingRight = 0; },
          border: { display: true, color: INK, width: 1 },
          grid: { display: true, drawOnChartArea: false, drawTicks: true, tickLength: 5, tickWidth: 2, tickColor: INK, color: INK },
          ticks: { display: false, autoSkip: false }
        },
        y: {
          type: "logarithmic", position: "left", min: p.yMin, max: p.yMax,
          afterBuildTicks: s => { s.ticks = p.yTicks.map(v => ({ value: v })); },
          afterFit: s => { s.width = p.area.l; s.paddingTop = 0; s.paddingBottom = 0; },
          border: { display: false },
          grid: { display: true, drawOnChartArea: false, drawTicks: true, tickLength: 5, tickWidth: 2, tickColor: INK, color: INK },
          ticks: { display: false, autoSkip: false }
        }
      }
    },
    plugins: [decorFor(i)]
  });
});
</script>
</body>
</html>
